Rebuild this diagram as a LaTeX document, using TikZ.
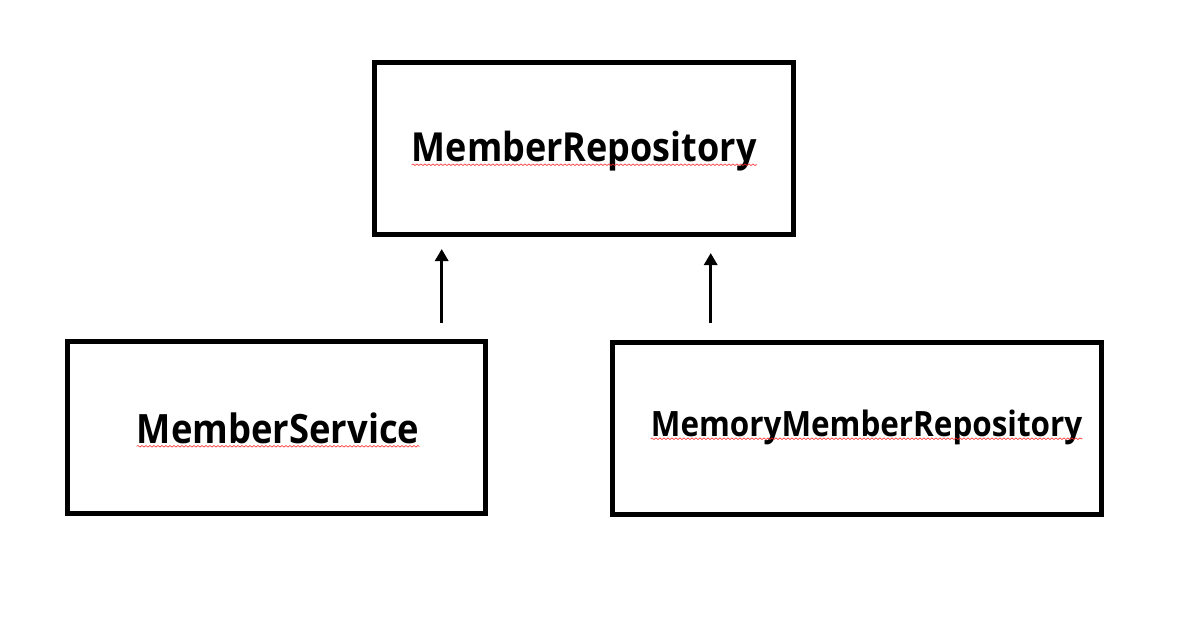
\documentclass[tikz,border=0pt]{standalone}
\usepackage{fontspec}
\setmainfont{Open Sans}[FakeStretch=0.9]
\usetikzlibrary{arrows.meta,decorations.pathmorphing}

\begin{document}
\begin{tikzpicture}[x=1pt,y=-1pt]
	\tikzstyle{boite}=[draw,line width=5pt,inner sep=0pt]
	\tikzstyle{nom}=[anchor=base west,inner sep=0pt]
	\tikzstyle{souligne}=[red!85,line width=0.6pt,decorate,decoration={snake,amplitude=0.8pt,segment length=4pt}]
	\tikzstyle{fleche}=[line width=3pt,-{Triangle[width=13pt,length=12pt]}]
	\useasboundingbox (0,0) rectangle (1192,622);
	\node[boite,minimum width=419pt,minimum height=172pt] (R) at (584,148.5){};
	\node[boite,minimum width=418pt,minimum height=172pt] (S) at (276.7,427.7){};
	\node[boite,minimum width=489pt,minimum height=172pt] (M) at (857,428){};
	\node[nom,font=\fontsize{40}{44}\selectfont\bfseries] (tR) at (411.7,161.7){MemberRepository};
	\node[nom,font=\fontsize{40.4}{44}\selectfont\bfseries] (tS) at (136.7,443.3){MemberService};
	\node[nom,font=\fontsize{34.9}{38}\selectfont\bfseries] (tM) at (650.7,436.7){MemoryMemberRepository};
\draw[souligne] ([yshift=-3pt]tR.base west) -- ([yshift=-3pt]tR.base east);
\draw[souligne] ([yshift=-3pt]tS.base west) -- ([yshift=-3pt]tS.base east);
\draw[souligne] ([yshift=-2pt]tM.base west) -- ([yshift=-2pt]tM.base east);
	\coordinate (sa) at (441.7,322.7);
	\coordinate (sb) at (441.7,249);
	\coordinate (ma) at (710.7,322.7);
	\coordinate (mb) at (710.7,253);
\draw[fleche] (sa) -- (sb);
\draw[fleche] (ma) -- (mb);
\end{tikzpicture}
\end{document}
